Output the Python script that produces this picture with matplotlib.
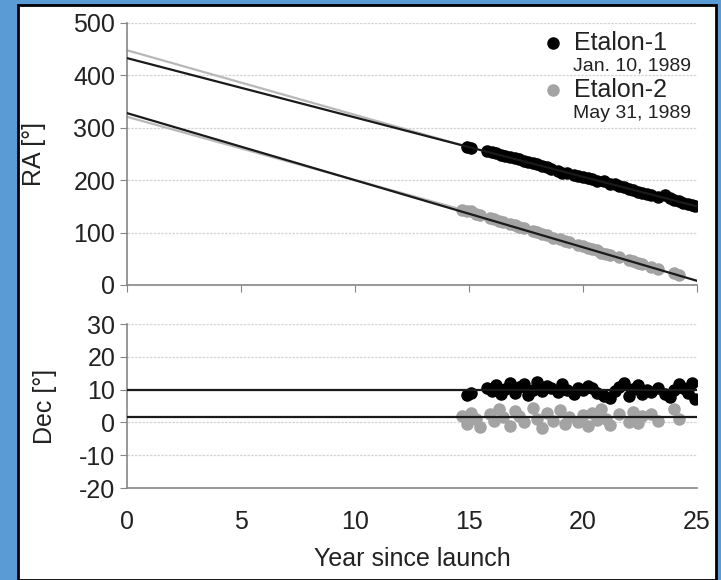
import numpy as np
import matplotlib
matplotlib.use('Agg')
import matplotlib.pyplot as plt
from matplotlib.patches import Rectangle

plt.rcParams['font.family'] = ['Liberation Sans', 'DejaVu Sans']
plt.rcParams['axes.unicode_minus'] = False

# Etalon-1 observations (year since launch, RA deg, Dec deg)
e1_year = [14.9, 15.1, 15.8, 16.0, 16.2, 16.4, 16.6, 16.8, 17.0, 17.2, 17.4, 17.6,
           17.8, 18.0, 18.2, 18.4, 18.6, 18.9, 19.1, 19.3, 19.6, 19.8, 20.0, 20.2,
           20.4, 20.6, 20.9, 21.2, 21.4, 21.6, 21.8, 22.0, 22.2, 22.4, 22.6, 22.8,
           23.0, 23.3, 23.6, 23.8, 24.0, 24.2, 24.4, 24.6, 24.8, 24.9]
e1_ra = [264, 261, 256, 254, 252, 249, 247, 245, 242, 240, 237, 235,
         232, 230, 227, 225, 222, 218, 214, 214, 210, 208, 206, 205,
         203, 199, 198, 192, 193, 189, 187, 184, 181, 178, 176, 173,
         172, 168, 171, 166, 163, 160, 157, 155, 152, 150]
e1_dec = [8.5, 9.0, 10.5, 9.5, 11.5, 8.8, 10.2, 12.0, 9.0, 10.8, 11.6, 8.4,
          10.0, 12.3, 9.6, 11.0, 10.5, 9.2, 11.8, 10.0, 8.8, 10.6, 9.9, 11.2,
          10.4, 9.0, 8.2, 7.4, 9.6, 10.8, 11.9, 8.0, 10.2, 11.4, 8.6, 10.0,
          9.2, 10.6, 8.8, 7.6, 9.8, 11.8, 10.4, 9.0, 12.0, 7.0]

# Etalon-2 observations
e2_year = [14.7, 14.9, 15.1, 15.3, 15.5, 15.9, 16.1, 16.3, 16.5, 16.8, 17.0, 17.2,
           17.4, 17.8, 18.0, 18.2, 18.4, 18.7, 19.0, 19.2, 19.4, 19.8, 20.0, 20.2,
           20.4, 20.6, 20.8, 21.0, 21.2, 21.6, 22.0, 22.2, 22.4, 22.6, 23.0, 23.3,
           24.0, 24.2]
e2_ra = [143, 141, 142, 136, 134, 127, 126, 122, 120, 116, 114, 110,
         109, 103, 101, 98, 95, 90, 87, 84, 82, 77, 74, 71,
         69, 66, 62, 60, 58, 53, 47, 45, 42, 40, 35, 31,
         22, 19]
e2_dec = [2.0, -0.5, 3.0, 1.0, -1.5, 2.5, 0.5, 4.0, 1.5, -1.0, 3.5, 2.0,
          0.0, 4.5, 1.0, -1.8, 2.8, 0.5, 3.8, -0.5, 1.5, 0.0, 2.2, -1.2,
          3.0, 0.8, 4.2, 1.0, -0.8, 2.5, 0.2, 3.2, -0.2, 1.8, 2.6, 0.5,
          4.0, 1.0]

# fitted motion lines (year endpoints, RA endpoints)
e1_fit_year, e1_fit_ra = [0, 25], [433, 150]
e1_old_year, e1_old_ra = [0, 15], [448, 263]
e2_fit_year, e2_fit_ra = [0, 25], [328, 8]
e2_old_year, e2_old_ra = [0, 15], [321, 140]
dec_year = [0, 25]
e1_dec_fit = [9.8, 9.8]
e2_dec_fit = [1.6, 1.6]

fig = plt.figure(figsize=(7.21, 5.80), dpi=100)
fig.patch.set_facecolor('#5b9bd5')
fig.patches.append(Rectangle((18/721, 0), 698/721, 575/580, transform=fig.transFigure,
                             facecolor='white', edgecolor='black', linewidth=2, zorder=-5))

ax1 = fig.add_axes([127/721, 1-285/580, 570/721, 262/580])
ax2 = fig.add_axes([127/721, 1-488/580, 570/721, 164/580])

black = '#000000'
grey = '#a3a3a3'
txt = '#222222'
ms = 8

for ax in (ax1, ax2):
    ax.set_facecolor('none')
    ax.set_xlim(0, 25)
    ax.set_xticks([0, 5, 10, 15, 20, 25])
    for s in ('top', 'right'):
        ax.spines[s].set_visible(False)
    for s in ('left', 'bottom'):
        ax.spines[s].set_color('#868686')
        ax.spines[s].set_linewidth(1.2)
    ax.yaxis.grid(True, color='#d4d4d4', linestyle=(0, (2, 1)), linewidth=0.9)
    ax.set_axisbelow(True)
    ax.tick_params(direction='out', length=5, color='#868686', labelsize=18,
                   labelcolor=txt)

# RA panel
ax1.plot(e1_old_year, e1_old_ra, color='#b8b8b8', lw=1.6, zorder=2)
ax1.plot(e2_old_year, e2_old_ra, color='#b8b8b8', lw=1.6, zorder=2)
ax1.plot(e1_year, e1_ra, 'o', color=black, ms=ms, zorder=3)
ax1.plot(e2_year, e2_ra, 'o', color=grey, ms=ms, zorder=3)
ax1.plot(e1_fit_year, e1_fit_ra, color='#1a1a1a', lw=1.6, zorder=4)
ax1.plot(e2_fit_year, e2_fit_ra, color='#1a1a1a', lw=1.6, zorder=4)
ax1.set_ylim(0, 500)
ax1.set_yticks([0, 100, 200, 300, 400, 500])
ax1.tick_params(axis='x', labelbottom=False)
ax1.set_ylabel('RA [°]', fontsize=18, color=txt)
ax1.yaxis.set_label_coords(-0.142, 0.5)

# legend drawn as text
ax1.plot([0.747], [0.924], 'o', color=black, ms=ms, transform=ax1.transAxes, clip_on=False)
ax1.text(0.784, 0.924, 'Etalon-1', transform=ax1.transAxes, fontsize=18, va='center', color=txt)
ax1.text(0.782, 0.836, 'Jan. 10, 1989', transform=ax1.transAxes, fontsize=14, va='center', color=txt)
ax1.plot([0.747], [0.744], 'o', color=grey, ms=ms, transform=ax1.transAxes, clip_on=False)
ax1.text(0.784, 0.744, 'Etalon-2', transform=ax1.transAxes, fontsize=18, va='center', color=txt)
ax1.text(0.782, 0.656, 'May 31, 1989', transform=ax1.transAxes, fontsize=14, va='center', color=txt)

# Dec panel
ax2.plot(e1_year, e1_dec, 'o', color=black, ms=ms, zorder=3)
ax2.plot(e2_year, e2_dec, 'o', color=grey, ms=ms, zorder=3)
ax2.plot(dec_year, e1_dec_fit, color='#1a1a1a', lw=1.6, zorder=4)
ax2.plot(dec_year, e2_dec_fit, color='#1a1a1a', lw=1.6, zorder=4)
ax2.set_ylim(-20, 30)
ax2.set_yticks([-20, -10, 0, 10, 20, 30])
ax2.tick_params(axis='x', length=0, pad=16)
ax2.set_ylabel('Dec [°]', fontsize=18, color=txt)
ax2.yaxis.set_label_coords(-0.122, 0.5)
ax2.set_xlabel('Year since launch', fontsize=18, color=txt, labelpad=9)

fig.savefig('out.png', dpi=100, facecolor=fig.get_facecolor())
